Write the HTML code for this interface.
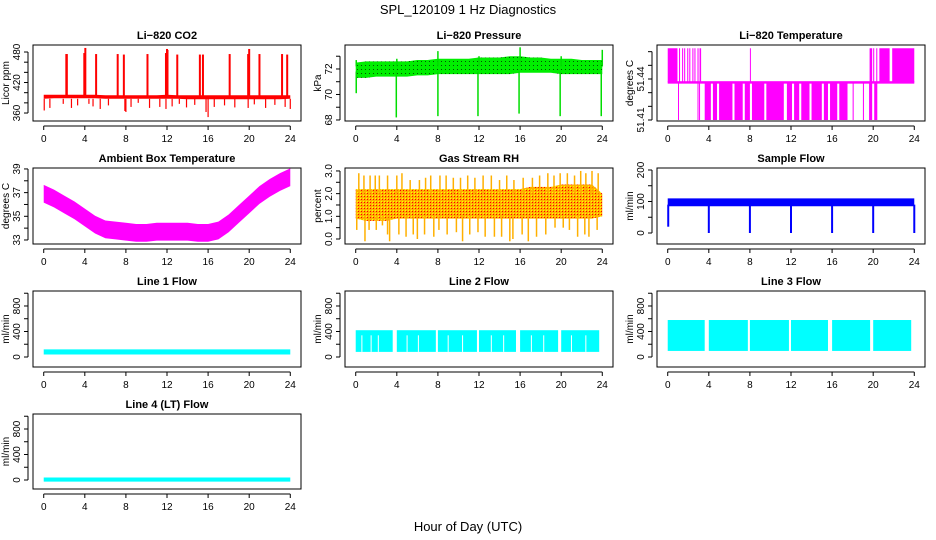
<!DOCTYPE html>
<html><head><meta charset="utf-8"><style>
body{margin:0;background:#fff}
svg{display:block;font-family:"Liberation Sans",Arial,sans-serif}
</style></head><body>
<svg id="c" width="936" height="540" viewBox="0 0 936 540">
<defs>
<pattern id="gdots" width="4" height="4" patternUnits="userSpaceOnUse"><rect width="4" height="4" fill="#00ee00"/><rect x="1" y="1" width="1" height="1" fill="#005500"/></pattern>
<pattern id="rdots" width="3" height="3" patternUnits="userSpaceOnUse"><rect width="3" height="3" fill="#ffb000"/><rect x="1" y="1" width="1" height="1" fill="#ff0000"/><rect x="0" y="0" width="1" height="1" fill="#ffff00"/></pattern>
</defs>
<text x="468" y="14" text-anchor="middle" font-size="13">SPL_120109  1 Hz Diagnostics</text>
<text x="468" y="531" text-anchor="middle" font-size="13">Hour of Day (UTC)</text>
</svg>
<script>
// ---- data ----
const hours = [0,1,2,3,4,5,6,7,8,9,10,11,12,13,14,15,16,17,18,19,20,21,22,23,24];
const xTicks = [0,4,8,12,16,20,24];

const co2Low  = [388,389,389,389,389,389,388,388,388,388,388,388,388,388,387,387,387,387,387,387,387,387,387,387,388];
const co2High = [396,396,396,396,396,396,395,395,395,395,395,395,396,395,395,395,395,395,395,395,395,395,395,395,395];
const co2SpikeHours = [2.2,2.25,3.95,4.05,5.1,7.2,7.8,10.1,11.9,12.0,12.05,13.0,15.2,15.5,18.1,19.9,20.0,21.0,23.2,23.7];
const co2SpikeVals  = [476,476,478,488,476,476,475,476,478,486,484,475,475,475,476,476,486,476,476,475];
const co2DipHours = [0.05,0.6,1.9,2.7,3.3,4.4,4.8,5.5,6.3,7.9,8.0,8.5,9.2,10.3,11.3,11.9,12.5,13.2,13.9,14.7,15.8,16.0,16.6,17.6,18.6,19.9,20.5,21.6,22.5,23.5,24.0];
const co2DipVals  = [365,370,378,370,375,378,373,368,375,364,362,372,380,370,372,368,373,378,371,376,362,352,372,375,371,370,377,370,376,372,368];

const presHigh = [72.5,72.6,72.6,72.6,72.6,72.6,72.7,72.7,72.8,72.8,72.8,72.8,72.9,72.9,72.9,73.0,73.0,72.9,72.9,72.8,72.8,72.8,72.7,72.7,72.7];
const presLow  = [71.3,71.3,71.4,71.4,71.4,71.4,71.5,71.5,71.6,71.6,71.6,71.6,71.6,71.6,71.6,71.6,71.7,71.7,71.7,71.7,71.6,71.6,71.6,71.6,71.6];
const presDipHours = [0.05,3.95,8.0,11.9,15.9,19.9,23.9];
const presDipVals  = [70.1,68.2,68.3,68.3,68.5,68.3,68.3];
const presTopHours = [0.05,4.0,8.0,12.0,16.0,20.0,24.0];
const presTopVals  = [72.7,72.8,73.4,73.0,73.7,73.0,73.5];

const tempMid = 51.4375, tempHigh = 51.4625, tempLowV = 51.41;
const tempUpStart = [0,1.1,1.4,1.6,1.9,2.1,2.4,2.6,2.9,3.1,8.0,19.65,20.0,20.3,20.6,21.85];
const tempUpEnd   = [0.95,1.2,1.5,1.7,2.0,2.2,2.5,2.7,3.0,3.25,8.05,19.9,20.1,20.4,21.6,24.0];
const tempDnStart = [1.0,2.9,3.05,3.6,4.4,5.0,6.5,7.5,8.2,9.6,11.6,12.3,13.0,14.0,15.2,15.8,16.7,18.0,19.0,19.6,20.1];
const tempDnEnd   = [1.05,2.95,3.1,4.2,4.8,6.3,7.3,8.0,9.4,11.3,12.1,12.8,13.8,15.0,15.6,16.5,17.5,18.1,19.1,19.9,20.4];

const ambCenter = [36.9,36.5,36.0,35.5,34.9,34.3,33.9,33.8,33.7,33.6,33.6,33.7,33.7,33.7,33.7,33.6,33.6,33.8,34.4,35.2,36.0,36.8,37.4,37.9,38.3];
const ambHalf = 0.75;

const rhLow  = [0.9,0.8,0.8,0.8,0.9,0.9,0.9,0.9,0.9,0.9,0.9,0.9,0.9,0.9,0.9,0.9,0.9,0.9,0.9,0.9,0.9,0.9,0.9,0.9,1.0];
const rhHigh = [2.2,2.2,2.2,2.2,2.2,2.2,2.2,2.2,2.2,2.2,2.2,2.2,2.2,2.2,2.2,2.2,2.2,2.3,2.3,2.3,2.4,2.4,2.4,2.4,2.0];
const rhUpHours = [0.3,0.8,1.4,1.9,2.3,3.1,4.0,4.5,5.3,6.2,6.8,7.3,8.2,8.8,9.5,10.2,10.9,11.6,12.4,13.2,14.0,14.7,15.4,16.3,17.2,17.9,18.7,19.3,19.9,20.6,21.3,21.9,22.4,23.0,23.6];
const rhUpVals  = [2.9,2.8,2.8,2.8,2.8,2.8,2.8,2.9,2.6,2.6,2.7,2.8,2.8,2.8,2.7,2.7,2.8,2.7,2.8,2.8,2.6,2.8,2.6,2.7,2.7,2.8,2.9,2.8,2.9,2.9,2.8,3.0,2.9,3.0,2.9];
const rhDnHours = [0.1,0.9,1.3,2.0,2.6,3.1,3.3,4.2,4.9,5.6,6.0,6.7,7.6,8.1,8.9,9.8,10.4,11.1,11.9,12.6,13.5,14.2,15.0,15.3,16.2,16.8,17.6,18.5,19.4,20.2,20.8,21.6,22.3,22.7,23.5];
const rhDnVals  = [0.4,-0.1,0.4,0.4,0.6,0.2,-0.1,0.2,0.1,0.2,0.0,0.2,0.1,0.4,0.2,0.3,-0.1,0.2,0.3,0.1,0.1,0.1,-0.1,0.0,0.2,-0.1,0.1,0.2,0.5,0.5,0.4,0.1,0.2,0.1,0.4];

const sfLow = 85, sfHigh = 110;
const sfDipHours = [0.05,4.0,8.0,12.0,16.0,20.0,24.0];
const sfDipVals  = [20,0,0,0,0,0,0];

const l1Low = 40, l1High = 120;
const l2BlockStart = [0,4.0,8.0,12.0,16.0,20.0];
const l2BlockEnd   = [3.6,7.8,11.8,15.6,19.7,23.7];
const l2Low = 80, l2High = 420;
const l2GapHours = [0.6,1.5,2.2,5.0,6.1,9.0,10.4,13.2,14.4,17.1,18.3,21.0,22.4];
const l3BlockStart = [0,4.0,8.0,12.0,16.0,20.0];
const l3BlockEnd   = [3.6,7.8,11.8,15.6,19.7,23.7];
const l3Low = 95, l3High = 580;
const l4Low = -25, l4High = 40;

// ---- layout ----
const svg = document.getElementById('c');
const NS = 'http://www.w3.org/2000/svg';
const colX = [33,345,657], W = 268;
const rowY = [[45,121],[168,244],[291,367],[414,489]];

function el(tag, attrs, parent){
  const e = document.createElementNS(NS, tag);
  for (const k in attrs) e.setAttribute(k, attrs[k]);
  (parent||svg).appendChild(e);
  return e;
}

function panel(col,row,title,ylab,ylo,yhi,yticks,ylabels,name){
  const g = el('g',{});
  
  
  const x0 = colX[col], x1 = x0+W, y0 = rowY[row][0], y1 = rowY[row][1];
  const xs = h => x0 + W*0.04 + h/24*(W*0.92);
  const ys = v => y1 - (v-ylo)/(yhi-ylo)*(y1-y0);
  const dataG = el('g',{},g);
  
  
  const box = el('rect',{x:x0,y:y0,width:W,height:y1-y0,fill:'none',stroke:'#000','stroke-width':1},g);
  
  
  const t = el('text',{x:(x0+x1)/2,y:y0-6,'text-anchor':'middle','font-size':11,'font-weight':'bold'},g);
  t.textContent = title;
  
  
  const xa = el('g',{},g);
  
  
  el('line',{x1:xs(0),x2:xs(24),y1:y1+5,y2:y1+5,stroke:'#000'},xa);
  xTicks.forEach(h=>{
    el('line',{x1:xs(h),x2:xs(h),y1:y1+5,y2:y1+9,stroke:'#000'},xa);
    const l = el('text',{x:xs(h),y:y1+21,'text-anchor':'middle','font-size':10},xa);
    l.textContent = h;
  });
  const ya = el('g',{},g);
  
  
  el('line',{x1:x0-5,x2:x0-5,y1:ys(yticks[0]),y2:ys(yticks[yticks.length-1]),stroke:'#000'},ya);
  yticks.forEach((v,i)=>{
    el('line',{x1:x0-9,x2:x0-5,y1:ys(v),y2:ys(v),stroke:'#000'},ya);
    if (ylabels[i]!==''){
      const l = el('text',{x:x0-13,y:ys(v),'text-anchor':'middle','font-size':10,transform:`rotate(-90 ${x0-13} ${ys(v)})`},ya);
      l.textContent = ylabels[i];
    }
  });
  const yl = el('text',{x:x0-24,y:(y0+y1)/2,'text-anchor':'middle','font-size':10,transform:`rotate(-90 ${x0-24} ${(y0+y1)/2})`},g);
  yl.textContent = ylab;
  
  
  return {xs,ys,g:dataG};
}

function band(p,lows,highs,fill){
  let d = 'M'+hours.map((h,i)=>p.xs(h)+','+p.ys(highs[i])).join('L');
  d += 'L'+hours.slice().reverse().map((h,j)=>{const i=hours.length-1-j;return p.xs(h)+','+p.ys(lows[i]);}).join('L')+'Z';
  el('path',{d,fill,stroke:'none'},p.g);
}
function vlines(p,hs,from,tos,color,w){
  hs.forEach((h,i)=>{
    const f = Array.isArray(from)?from[i]:from;
    el('line',{x1:p.xs(h),x2:p.xs(h),y1:p.ys(f),y2:p.ys(tos[i]),stroke:color,'stroke-width':w||1.5},p.g);
  });
}
function rectH(p,h0,h1,lo,hi,fill){
  el('rect',{x:p.xs(h0),y:p.ys(hi),width:Math.max(1,p.xs(h1)-p.xs(h0)),height:p.ys(lo)-p.ys(hi),fill},p.g);
}

// CO2
let p = panel(0,0,'Li\u2212820 CO2','Licor ppm',344.3,493.8,[360,380,400,420,440,460,480],['360','','','420','','','480'],'panel-co2');
band(p,co2Low,co2High,'#ff0000');
vlines(p,co2SpikeHours,392,co2SpikeVals,'#ff0000',2);
vlines(p,co2DipHours,388,co2DipVals,'#ff0000',1.2);

// Pressure
p = panel(1,0,'Li\u2212820 Pressure','kPa',67.92,73.88,[68,69,70,71,72,73],['68','','70','','72',''],'panel-pressure');
band(p,presLow,presHigh,'url(#gdots)');
vlines(p,presDipHours,71.8,presDipVals,'#00dd00',1.5);
vlines(p,presTopHours,72.2,presTopVals,'#00dd00',1.5);

// Li temp
p = panel(2,0,'Li\u2212820 Temperature','degrees C',51.40927,51.46488,[51.41,51.42,51.43,51.44,51.45,51.46],['51.41','','','51.44','',''],'panel-li-temperature');
rectH(p,0,24,tempMid-0.0009,tempMid+0.0009,'#ff00ff');
tempUpStart.forEach((s,i)=>rectH(p,s,tempUpEnd[i],tempMid,tempHigh,'#ff00ff'));
tempDnStart.forEach((s,i)=>rectH(p,s,tempDnEnd[i],tempLowV,tempMid,'#ff00ff'));

// Ambient
p = panel(0,1,'Ambient Box Temperature','degrees C',32.66,39.08,[33,34,35,36,37,38,39],['33','','35','','37','','39'],'panel-ambient-temperature');
band(p,ambCenter.map(v=>v-ambHalf),ambCenter.map(v=>v+ambHalf),'#ff00ff');

// RH
p = panel(1,1,'Gas Stream RH','percent',-0.22,3.13,[0,0.5,1,1.5,2,2.5,3],['0.0','','1.0','','2.0','','3.0'],'panel-gas-rh');
band(p,rhLow,rhHigh,'url(#rdots)');
vlines(p,rhUpHours,2.0,rhUpVals,'#ffb000',1.5);
vlines(p,rhDnHours,1.0,rhDnVals,'#ffb000',1.5);

// Sample flow
p = panel(2,1,'Sample Flow','ml/min',-34.9,206.3,[0,50,100,150,200],['0','','100','','200'],'panel-sample-flow');
band(p,hours.map(()=>sfLow),hours.map(()=>sfHigh),'#0000ff');
vlines(p,sfDipHours,90,sfDipVals,'#0000ff',2);

const flowTicks = [0,200,400,600,800,1000], flowLabels = ['0','','400','','800',''];
// Line 1
p = panel(0,2,'Line 1 Flow','ml/min',-157,1035,flowTicks,flowLabels,'panel-line1-flow');
band(p,hours.map(()=>l1Low),hours.map(()=>l1High),'#00ffff');
// Line 2
p = panel(1,2,'Line 2 Flow','ml/min',-157,1035,flowTicks,flowLabels,'panel-line2-flow');
l2BlockStart.forEach((s,i)=>rectH(p,s,l2BlockEnd[i],l2Low,l2High,'#00ffff'));
vlines(p,l2GapHours,l2Low,l2GapHours.map(()=>340),'#ffffff',1);
// Line 3
p = panel(2,2,'Line 3 Flow','ml/min',-157,1035,flowTicks,flowLabels,'panel-line3-flow');
l3BlockStart.forEach((s,i)=>rectH(p,s,l3BlockEnd[i],l3Low,l3High,'#00ffff'));
// Line 4
p = panel(0,3,'Line 4 (LT) Flow','ml/min',-141,1035,flowTicks,flowLabels,'panel-line4-flow');
band(p,hours.map(()=>l4Low),hours.map(()=>l4High),'#00ffff');
</script>
</body></html>
